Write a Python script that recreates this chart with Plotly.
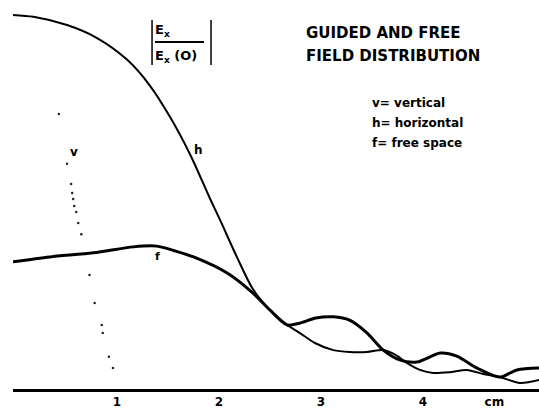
import plotly.graph_objects as go

# ---- data (x in cm, y = |Ex / Ex(0)|) ----
h_x = [-0.02, 0.18, 0.51, 0.80, 1.10, 1.32, 1.52, 1.72, 1.91, 2.01, 2.18, 2.33, 2.50, 2.67,
       2.79, 2.94, 3.12, 3.28, 3.45, 3.61, 3.73, 3.84, 3.97, 4.10,
       4.26, 4.43, 4.59, 4.75, 4.95, 5.14]
h_y = [1.0, 0.995, 0.973, 0.939, 0.880, 0.812, 0.727, 0.625, 0.510, 0.452, 0.350, 0.268, 0.211, 0.171,
       0.150, 0.123, 0.104, 0.099, 0.099, 0.104, 0.091, 0.070, 0.051, 0.043,
       0.045, 0.051, 0.040, 0.032, 0.016, 0.024]

f_x = [-0.02, 0.34, 0.77, 1.16, 1.39, 1.57, 1.75, 2.08, 2.33, 2.50, 2.67,
       2.79, 2.95, 3.12, 3.28, 3.45, 3.61, 3.77, 3.94, 4.17, 4.33, 4.53, 4.75, 4.92, 5.14]
f_y = [0.340, 0.353, 0.364, 0.380, 0.382, 0.369, 0.353, 0.310, 0.257, 0.211, 0.171,
       0.176, 0.190, 0.193, 0.184, 0.150, 0.104, 0.078, 0.072, 0.096, 0.088, 0.056, 0.032, 0.051, 0.056]

v_x = [0.43, 0.51, 0.55, 0.56, 0.57, 0.58, 0.60, 0.62, 0.65, 0.73, 0.78, 0.85, 0.86, 0.92, 0.96]
v_y = [0.735, 0.602, 0.548, 0.524, 0.508, 0.489, 0.473, 0.444, 0.414, 0.305, 0.230, 0.171, 0.150, 0.086, 0.056]

tick_vals = [1, 2, 3, 4, 4.7]
tick_text = ["1", "2", "3", "4", "cm"]

# ---- pixel helpers for text placement ----
def px2x(px):
    return (px - 15) / 102.0

def py2y(py):
    return (389 - py) / 374.0

FONT = "DejaVu Sans"

fig = go.Figure()
fig.add_trace(go.Scatter(x=h_x, y=h_y, mode="lines",
                         line=dict(color="black", width=2, shape="spline", smoothing=0.8),
                         hoverinfo="skip", showlegend=False))
fig.add_trace(go.Scatter(x=f_x, y=f_y, mode="lines",
                         line=dict(color="black", width=3, shape="spline", smoothing=0.8),
                         hoverinfo="skip", showlegend=False))
fig.add_trace(go.Scatter(x=v_x, y=v_y, mode="markers", marker=dict(color="#222", size=2.5),
                         hoverinfo="skip", showlegend=False))

ann = []
def txt(px, py, s, size, anchor="left"):
    ann.append(dict(x=px2x(px), y=py2y(py), xref="x", yref="y", text=s, showarrow=False,
                    xanchor=anchor, yanchor="middle",
                    font=dict(family=FONT, size=size, color="black")))

txt(304, 33, "<b>GUIDED AND FREE</b>", 15)
txt(304, 56, "<b>FIELD DISTRIBUTION</b>", 15)
txt(370, 103, "<b>v= vertical</b>", 12)
txt(370, 123, "<b>h= horizontal</b>", 12)
txt(370, 143, "<b>f= free space</b>", 12)
txt(68, 152, "<b>v</b>", 12)
txt(192, 150, "<b>h</b>", 12)
txt(153, 257, "<b>f</b>", 11)
txt(153, 31, "<b>E<sub>x</sub></b>", 13)
txt(153, 57, "<b>E<sub>x</sub> (O)</b>", 13)

shapes = [
    dict(type="line", xref="x", yref="y", x0=px2x(155), x1=px2x(204), y0=py2y(42), y1=py2y(42),
         line=dict(color="black", width=2)),
    dict(type="line", xref="x", yref="y", x0=px2x(152), x1=px2x(152), y0=py2y(20), y1=py2y(65),
         line=dict(color="black", width=1.5)),
    dict(type="line", xref="x", yref="y", x0=px2x(211), x1=px2x(211), y0=py2y(20), y1=py2y(65),
         line=dict(color="black", width=1.5)),
]

fig.update_layout(
    width=539, height=409,
    margin=dict(l=13, r=0, t=0, b=20),
    paper_bgcolor="white", plot_bgcolor="white",
    annotations=ann, shapes=shapes,
    xaxis=dict(range=[-0.02, 5.137], showgrid=False, zeroline=False, showline=True,
               linecolor="black", linewidth=2.5, tickvals=tick_vals,
               ticktext=["<b>" + t + "</b>" for t in tick_text],
               ticks="", tickfont=dict(family=FONT, size=12, color="black")),
    yaxis=dict(range=[0, 1.04], showgrid=False, zeroline=False, showline=False,
               showticklabels=False, ticks=""),
)

fig.write_html("out.html")
